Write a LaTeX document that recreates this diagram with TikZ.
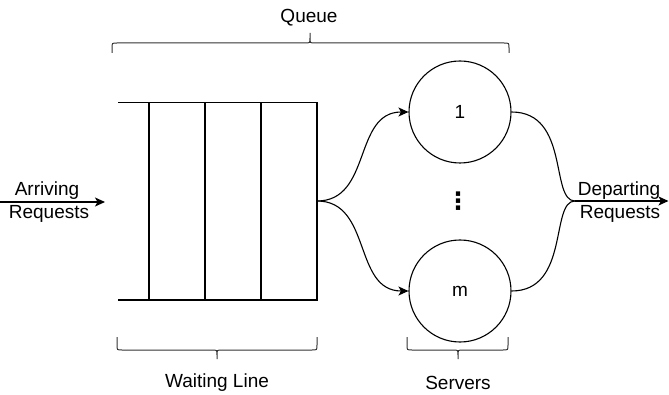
\documentclass[tikz,border=0pt]{standalone}
\usepackage{fontspec}
\setmainfont{Liberation Sans}
\newfontfamily\dotsfont{DejaVu Sans}
\usetikzlibrary{arrows.meta}
\begin{document}
\begin{tikzpicture}[x=1pt,y=-1pt,
  ln/.style={line width=1.1pt,draw=black},
  arr/.style={ln,-{Stealth[length=10pt,width=9pt,inset=2.5pt]}},
  lbl/.style={font=\fontsize{19}{21.5}\selectfont,inner sep=0pt,align=center},
  srv/.style={circle,ln,minimum size=102pt,inner sep=0pt,font=\fontsize{19}{21.5}\selectfont},
  brc/.style={line width=1pt,draw=black!80}]
\useasboundingbox (0,0) rectangle (669,395);

% waiting line: open on the left, four slots
\draw[ln] (118,102.5) -- (317,102.5) -- (317,300) -- (118,300);
\foreach \x in {149,205,261}
  \draw[ln] (\x,102.5) -- (\x,300);
\coordinate (wl) at (317,201);

% servers
\node[srv] (s1) at (460,112) {1};
\node[srv] (sm) at (460,291) {m};
\node[inner sep=0pt,font=\dotsfont\bfseries\fontsize{24}{26}\selectfont] (dots) at (458,201) {⋮};

% arriving requests
\coordinate (ain) at (0,202);
\coordinate (aout) at (105,202);
\draw[arr] (ain) -- (aout);
\node[lbl] (arrA) at (47,191) {Arriving};
\node[lbl] (arrB) at (49,213.5) {Requests};

% waiting line to servers
\draw[arr] (wl) .. controls (372,201) and (353,112) .. (s1.west);
\draw[arr] (wl) .. controls (372,201) and (353,291) .. (sm.west);

% servers to departure
\coordinate (jn) at (575,201);
\coordinate (dout) at (668.5,201);
\draw[ln] (s1.east) .. controls (570,112) and (550,201) .. (jn);
\draw[ln] (sm.east) .. controls (570,291) and (550,201) .. (jn);
\draw[arr] (jn) -- (dout);
\node[lbl] (depA) at (619,191) {Departing};
\node[lbl] (depB) at (620,213.5) {Requests};

% braces
\draw[brc] (112,53) -- (112,48) .. controls (112,43) .. (117,43)
  -- (305,43) .. controls (310,43) .. (310,38) -- (310,33)
  (310,38) .. controls (310,43) .. (315,43) -- (504,43)
  .. controls (509,43) .. (509,48) -- (509,53);
\node[lbl] (queue) at (309,18) {Queue};

\draw[brc] (117,337) -- (117,345) .. controls (117,350) .. (122,350)
  -- (212,350) .. controls (217,350) .. (217,355) -- (217,359)
  (217,355) .. controls (217,350) .. (222,350) -- (312,350)
  .. controls (317,350) .. (317,345) -- (317,337);
\node[lbl] (wlabel) at (217,383) {Waiting Line};

\draw[brc] (407,337) -- (407,345) .. controls (407,350) .. (412,350)
  -- (453,350) .. controls (458,350) .. (458,355) -- (458,359)
  (458,355) .. controls (458,350) .. (463,350) -- (503,350)
  .. controls (508,350) .. (508,345) -- (508,337);
\node[lbl] (slabel) at (458,383) {Servers};
\end{tikzpicture}
\end{document}
